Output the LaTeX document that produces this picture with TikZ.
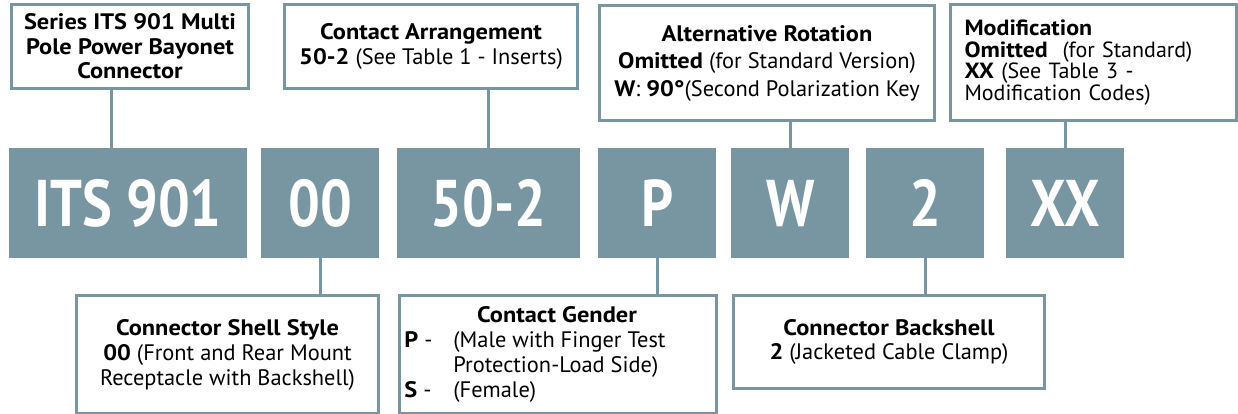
\documentclass[tikz,border=0pt]{standalone}
\usepackage{fontspec}
\setmainfont{PT Sans}[BoldFeatures={FakeStretch=1.09}]
\newfontfamily\blkfont{PT Sans}[FakeStretch=0.85]
\definecolor{steel}{HTML}{7895A2}
\begin{document}
\begin{tikzpicture}[x=1pt,y=-1pt,
  lbl/.style={draw=steel, line width=3pt, fill=white, inner sep=0pt, anchor=north west,
    align=center, font=\fontsize{22.4}{24.5}\selectfont},
  blk/.style={fill=steel, inner sep=0pt, anchor=north west, text=white,
    font=\fontsize{66}{70}\selectfont\blkfont\bfseries, minimum height=110pt},
  conn/.style={draw=steel, line width=3pt}]
\useasboundingbox (0,0) rectangle (1238,413);
% code blocks
\node[blk, minimum width=238pt] (k1) at (9,148) {ITS 901};
\node[blk, minimum width=118pt] (k2) at (261,148) {00};
\node[blk, minimum width=183pt] (k3) at (397,148) {50-2};
\node[blk, minimum width=118pt] (k4) at (598,148) {P};
\node[blk, minimum width=118pt] (k5) at (731,148) {W};
\node[blk, minimum width=118pt] (k6) at (866,148) {2};
\node[blk, minimum width=118pt] (k7) at (1006,148) {XX};
% top labels
\node[lbl, minimum width=237pt, minimum height=84pt] (t1) at (10,3)
  {\textbf{Series ITS 901 Multi}\\\textbf{Pole Power Bayonet}\\\textbf{Connector}};
\node[lbl, minimum width=293pt, minimum height=84pt, font=\fontsize{22.4}{25}\selectfont] (t2) at (283,3)
  {\textbf{Contact Arrangement}\\\textbf{50-2} (See Table 1 - Inserts)};
\node[lbl, minimum width=335pt, minimum height=115pt, font=\fontsize{22.4}{27.5}\selectfont] (t3) at (598,4)
  {\textbf{Alternative Rotation}\\\textbf{Omitted} (for Standard Version)\\\textbf{W}: \textbf{90°}(Second Polarization Key};
\node[lbl, minimum width=286pt, minimum height=116pt, text width=258pt, align=left, font=\fontsize{22}{21.5}\selectfont] (t4) at (949,3)
  {\textbf{Modification}\\\textbf{Omitted}\ \ (for Standard)\\\textbf{XX} (See Table 3 -\\Modification Codes)};
% bottom labels
\node[lbl, minimum width=302pt, minimum height=118pt, font=\fontsize{22.4}{25}\selectfont] (t5) at (75,294)
  {\textbf{Connector Shell Style}\\\textbf{00} (Front and Rear Mount\\Receptacle with Backshell)};
\node[lbl, minimum width=317pt, minimum height=118pt, font=\fontsize{22.4}{25}\selectfont] (t6) at (398,294)
  {\renewcommand{\arraystretch}{1}\begin{tabular}{@{}p{49pt}@{}l@{}}
   \multicolumn{2}{c}{\hspace{44pt}\textbf{Contact Gender}}\\
   \textbf{P} - & (Male with Finger Test\\
   & Protection-Load Side)\\
   \textbf{S} - & (Female)\end{tabular}\hspace{46pt}};
\node[lbl, minimum width=311pt, minimum height=93pt, font=\fontsize{22.4}{24}\selectfont] (t7) at (732,294)
  {\textbf{Connector Backshell}\\\textbf{2} (Jacketed Cable Clamp)};
% connectors
\draw[conn] ([xshift=-18.5pt]t1.south) -- ([xshift=-18.5pt]t1.south |- k1.north);
\draw[conn] (k3.north |- t2.south) -- (k3.north);
\draw[conn] (k5.north |- t3.south) -- (k5.north);
\draw[conn] (k7.north |- t4.south) -- (k7.north);
\draw[conn] (k2.south) -- (k2.south |- t5.north);
\draw[conn] (k4.south) -- (k4.south |- t6.north);
\draw[conn] (k6.south) -- (k6.south |- t7.north);
\end{tikzpicture}
\end{document}
